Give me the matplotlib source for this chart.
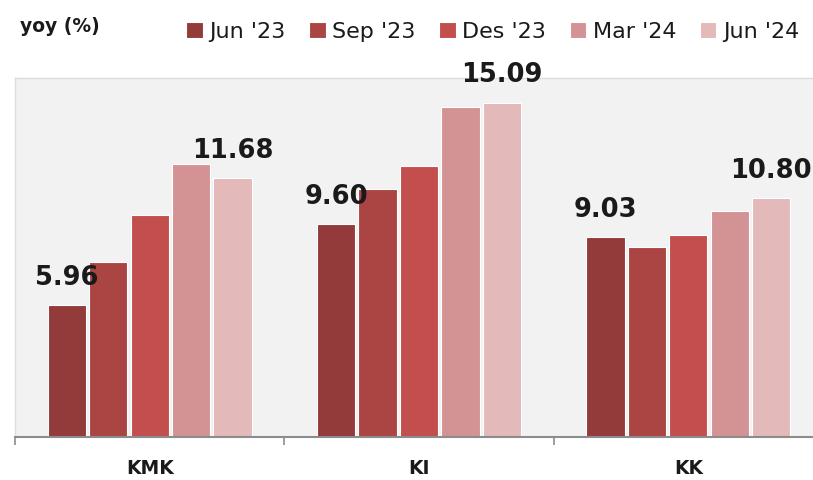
import numpy as np
import matplotlib
matplotlib.use("Agg")
import matplotlib.pyplot as plt

# data
categories = ["KMK", "KI", "KK"]
periods = ["Jun '23", "Sep '23", "Des '23", "Mar '24", "Jun '24"]
jun23 = [5.96, 9.60, 9.03]
sep23 = [7.90, 11.20, 8.56]
des23 = [10.02, 12.23, 9.12]
mar24 = [12.33, 14.87, 10.20]
jun24 = [11.68, 15.09, 10.80]
series = [jun23, sep23, des23, mar24, jun24]
colors = ["#923b3a", "#ab4543", "#c24f4d", "#d39293", "#e3b9ba"]

fig = plt.figure(figsize=(8.13, 4.80), dpi=100)
ax = fig.add_axes([15 / 813, 43 / 480, 808 / 813, 359 / 480])
ax.set_facecolor("#f2f2f2")

x = np.arange(len(categories))
pitch = 0.154
width = 0.142
for i, vals in enumerate(series):
    ax.bar(x + (i - 2) * pitch, vals, width, color=colors[i],
           edgecolor="white", linewidth=0.8, label=periods[i])

# labels on first and last bar of each group
for i in (0, 4):
    for xi, v in zip(x, series[i]):
        ax.annotate(f"{v:.2f}", (xi + (i - 2) * pitch, v),
                    xytext=(0, 14.5), textcoords="offset points",
                    ha="center", va="baseline", fontsize=18.5,
                    fontweight="bold", color="#1a1a1a")

ax.set_xlim(-0.5, 2.5)
ax.set_ylim(0, 16.2)
ax.set_yticks([])
ax.set_xticks([-0.5, 0.5, 1.5, 2.5])
ax.set_xticklabels([])
ax.tick_params(axis="x", which="major", length=6, width=1.2,
               color="#8c8c8c", direction="out")
ax.set_xticks(x, minor=True)
ax.set_xticklabels(categories, minor=True, fontsize=13.5, fontweight="bold",
                   color="#1a1a1a")
ax.tick_params(axis="x", which="minor", length=0, pad=16)

for s in ["top", "left", "right"]:
    ax.spines[s].set_color("#dcdcdc")
    ax.spines[s].set_linewidth(1)
ax.spines["bottom"].set_color("#8c8c8c")
ax.spines["bottom"].set_linewidth(1.5)

fig.text(20 / 813, 1 - 27 / 480, "yoy (%)", fontsize=13.5, fontweight="bold",
         color="#1a1a1a", va="center", ha="left")
fig.legend(loc="center left", bbox_to_anchor=(166 / 813, 1 - 32 / 480),
           ncol=5, frameon=False, fontsize=16, handlelength=0.75,
           handleheight=0.75, handletextpad=0.3, columnspacing=1.05,
           labelcolor="#1a1a1a")

plt.savefig("out.png", dpi=100)
